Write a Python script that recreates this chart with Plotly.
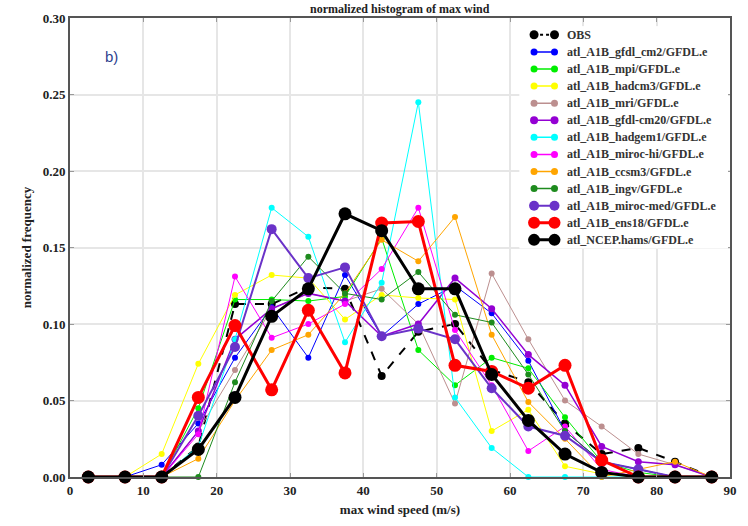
import plotly.graph_objects as go

wind = [2.5, 7.5, 12.5, 17.5, 22.5, 27.5, 32.5, 37.5, 42.5, 47.5, 52.5, 57.5, 62.5, 67.5, 72.5, 77.5, 82.5, 87.5]

obs        = [0, 0, 0, 0.02, 0.113, 0.113, 0.124, 0.123, 0.066, 0.095, 0.10, 0.07, 0.062, 0.035, 0.015, 0.019, 0.01, 0]
gfdl_cm2   = [0, 0, 0.008, 0.035, 0.078, 0.111, 0.078, 0.132, 0.092, 0.113, 0.125, 0.107, 0.076, 0.03, 0.01, 0.005, 0, 0]
mpi        = [0, 0, 0, 0.045, 0.116, 0.116, 0.115, 0.118, 0.156, 0.083, 0.06, 0.078, 0.071, 0.039, 0.01, 0.003, 0, 0]
hadcm3     = [0, 0, 0.015, 0.074, 0.119, 0.132, 0.13, 0.103, 0.119, 0.117, 0.116, 0.03, 0.044, 0.007, 0.002, 0, 0, 0]
mri        = [0, 0, 0, 0.03, 0.07, 0.11, 0.12, 0.115, 0.123, 0.1, 0.048, 0.133, 0.09, 0.05, 0.033, 0.015, 0.008, 0]
gfdl_cm20  = [0, 0, 0, 0.03, 0.09, 0.11, 0.12, 0.115, 0.092, 0.1, 0.13, 0.11, 0.08, 0.06, 0.02, 0.01, 0.008, 0]
hadgem1    = [0, 0, 0, 0.02, 0.09, 0.176, 0.157, 0.088, 0.127, 0.245, 0.052, 0.019, 0, 0, 0, 0, 0, 0]
miroc_hi   = [0, 0, 0, 0.028, 0.131, 0.091, 0.1, 0.113, 0.136, 0.176, 0.096, 0.06, 0.017, 0.033, 0.005, 0, 0, 0]
ccsm3      = [0, 0, 0, 0.012, 0.05, 0.083, 0.093, 0.12, 0.155, 0.141, 0.17, 0.093, 0.049, 0.025, 0, 0.005, 0.01, 0]
ingv       = [0, 0, 0, 0, 0.062, 0.115, 0.144, 0.12, 0.116, 0.134, 0.106, 0.101, 0.067, 0.03, 0.01, 0.005, 0, 0]
miroc_med  = [0, 0, 0, 0.04, 0.085, 0.162, 0.13, 0.137, 0.092, 0.097, 0.09, 0.058, 0.033, 0.027, 0.01, 0.005, 0, 0]
ens18      = [0, 0, 0, 0.052, 0.099, 0.057, 0.109, 0.068, 0.166, 0.167, 0.073, 0.069, 0.058, 0.073, 0.011, 0, 0, 0]
ncep       = [0, 0, 0, 0.018, 0.052, 0.105, 0.123, 0.172, 0.161, 0.123, 0.123, 0.067, 0.037, 0.015, 0.003, 0, 0, 0]

x_ticks = [0, 10, 20, 30, 40, 50, 60, 70, 80, 90]
y_ticks = [0, 0.05, 0.10, 0.15, 0.20, 0.25, 0.30]

# name, values, color, line width, marker size, dash, legend marker size
series = [
    ("OBS", obs, "black", 2, 8, "dash", 9),
    ("atl_A1B_gfdl_cm2/GFDL.e", gfdl_cm2, "#0000ff", 1, 6, "solid", 7),
    ("atl_A1B_mpi/GFDL.e", mpi, "#00ee00", 1, 6, "solid", 7),
    ("atl_A1B_hadcm3/GFDL.e", hadcm3, "#ffff00", 1, 6, "solid", 7),
    ("atl_A1B_mri/GFDL.e", mri, "#bc8f8f", 1, 6, "solid", 7),
    ("atl_A1B_gfdl-cm20/GFDL.e", gfdl_cm20, "#9400d3", 1.5, 7, "solid", 8),
    ("atl_A1B_hadgem1/GFDL.e", hadgem1, "#00ffff", 1, 6, "solid", 7),
    ("atl_A1B_miroc-hi/GFDL.e", miroc_hi, "#ff00ff", 1, 6, "solid", 7),
    ("atl_A1B_ccsm3/GFDL.e", ccsm3, "#ffa500", 1, 6, "solid", 7),
    ("atl_A1B_ingv/GFDL.e", ingv, "#1e8b1e", 1, 6, "solid", 7),
    ("atl_A1B_miroc-med/GFDL.e", miroc_med, "#6a32c8", 2, 10, "solid", 10),
    ("atl_A1B_ens18/GFDL.e", ens18, "#ff0000", 3, 13, "solid", 12),
    ("atl_NCEP.hams/GFDL.e", ncep, "#000000", 3, 13, "solid", 12),
]

serif = "Liberation Serif"
fig = go.Figure()
for name, vals, color, lw, ms, dash, lms in series:
    fig.add_trace(go.Scatter(
        x=wind, y=vals, name=name, mode="lines+markers",
        line=dict(color=color, width=lw, dash=dash),
        marker=dict(color=color, size=ms),
        cliponaxis=False, showlegend=False,
    ))

# ---- legend drawn on its own small overlay subplot (two markers joined by a line) ----
n = len(series)
fig.add_trace(go.Scatter(
    x=[0, 1, 1, 0, 0], y=[0, 0, n, n, 0], fill="toself", fillcolor="white",
    line=dict(width=0), mode="lines", hoverinfo="skip", showlegend=False,
    xaxis="x2", yaxis="y2",
))
annotations = []
for i, (name, vals, color, lw, ms, dash, lms) in enumerate(series):
    yi = n - i - 0.5
    fig.add_trace(go.Scatter(
        x=[0.07, 0.168], y=[yi, yi], mode="lines+markers",
        line=dict(color=color, width=max(lw, 1.5), dash="dot" if dash == "dash" else "solid"),
        marker=dict(color=color, size=lms), hoverinfo="skip", showlegend=False,
        xaxis="x2", yaxis="y2", cliponaxis=False,
    ))
    annotations.append(dict(
        text="<b>%s</b>" % name, x=0.218, y=yi, xref="x2", yref="y2",
        xanchor="left", yanchor="middle", showarrow=False,
        font=dict(family=serif, size=12, color="#333"),
    ))

annotations += [
    dict(text="b)", x=0.05, y=0.94, xref="paper", yref="paper",
         showarrow=False, font=dict(family="Liberation Sans", size=15, color="#2f3f8f")),
    dict(text="<b>normalized histogram of max wind</b>", x=0.5, y=1.019, xref="paper", yref="paper",
         xanchor="center", yanchor="middle", showarrow=False,
         font=dict(family=serif, size=12, color="#222")),
]

axis_common = dict(
    showgrid=True, gridcolor="#e6e6e6", gridwidth=1.5,
    showline=True, linecolor="#555", linewidth=2, mirror="ticks",
    ticks="inside", ticklen=4, tickcolor="#999",
    tickfont=dict(family=serif, size=13, color="#222"),
    zeroline=False,
)

fig.update_layout(
    width=748, height=526,
    margin=dict(l=70, r=11, t=16, b=43),
    paper_bgcolor="white", plot_bgcolor="white",
    showlegend=False,
    xaxis=dict(
        range=[0, 90], tickvals=x_ticks, ticktext=["<b>%d</b>" % v for v in x_ticks],
        title=dict(text="<b>max wind speed (m/s)</b>", font=dict(family=serif, size=13, color="#222"), standoff=8),
        **axis_common,
    ),
    yaxis=dict(
        range=[0, 0.30], tickvals=y_ticks, ticktext=["<b>%.2f</b>" % v for v in y_ticks],
        title=dict(text="<b>normalized frequency</b>", font=dict(family=serif, size=13, color="#222"), standoff=8),
        **axis_common,
    ),
    xaxis2=dict(domain=[0.681, 0.997], range=[0, 1], visible=False, anchor="y2", fixedrange=True),
    yaxis2=dict(domain=[0.498, 0.982], range=[0, n], visible=False, anchor="x2", fixedrange=True),
    annotations=annotations,
)

fig.write_html("out.html")
